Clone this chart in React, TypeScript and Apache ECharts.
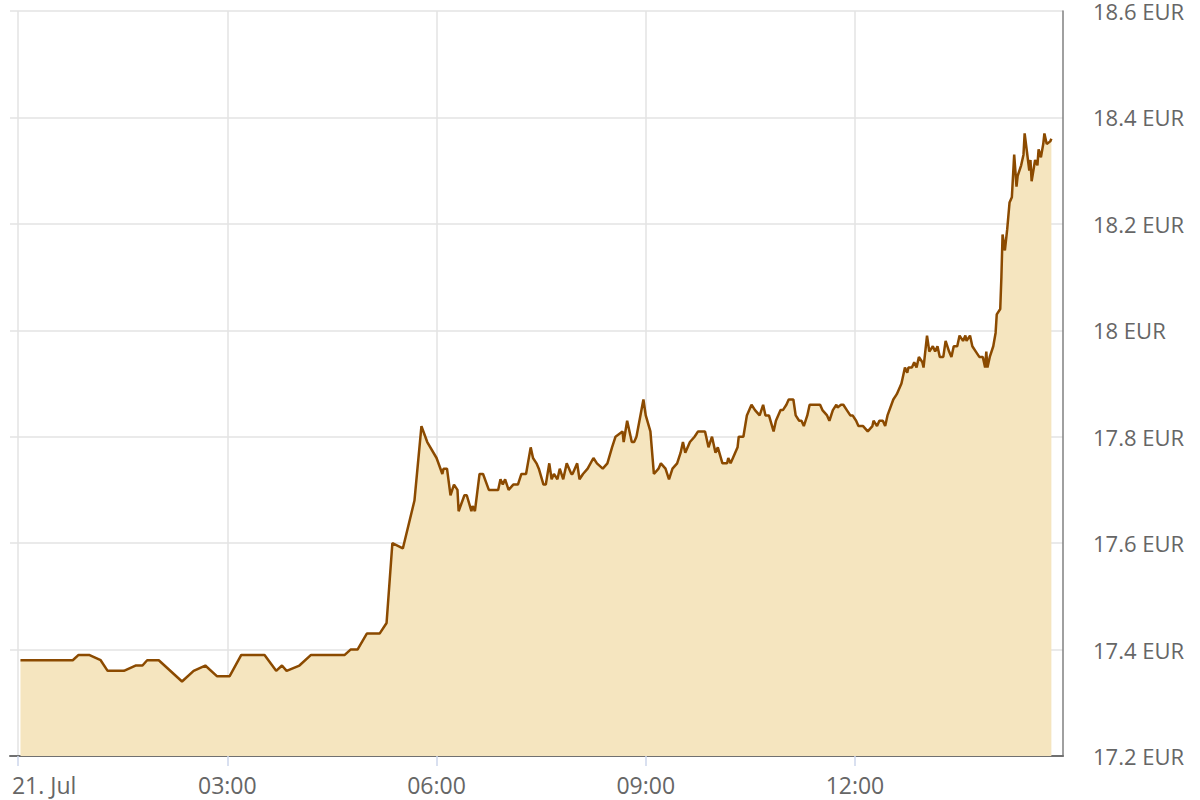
import React, { useEffect, useRef } from "react";
import * as echarts from "echarts";

const times = [
  "00:02","00:47","00:52","01:01","01:11","01:17","01:31","01:41","01:47","01:51",
  "02:01","02:21","02:31","02:41","02:51","03:02","03:12","03:32","03:42","03:47",
  "03:51","04:02","04:12","04:41","04:46","04:52","05:00","05:11","05:17","05:22",
  "05:31","05:41","05:47","05:52","06:00","06:05","06:06","06:09","06:12","06:15",
  "06:18","06:19","06:24","06:26","06:30","06:31","06:33","06:37","06:40","06:45",
  "06:53","06:55","06:57","06:59","07:02","07:06","07:10","07:13","07:17","07:21",
  "07:23","07:26","07:28","07:32","07:34","07:37","07:39","07:41","07:44","07:46",
  "07:49","07:52","07:56","07:57","08:01","08:03","08:06","08:10","08:15","08:18",
  "08:23","08:27","08:31","08:34","08:40","08:41","08:44","08:48","08:50","08:52",
  "08:58","09:00","09:04","09:07","09:11","09:13","09:17","09:20","09:23","09:27",
  "09:30","09:32","09:34","09:38","09:42","09:45","09:48","09:51","09:54","09:57",
  "10:00","10:02","10:06","10:10","10:11","10:13","10:15","10:19","10:20","10:24",
  "10:27","10:31","10:34","10:38","10:41","10:43","10:46","10:50","10:52","10:56",
  "10:58","11:01","11:03","11:07","11:09","11:12","11:14","11:16","11:19","11:21",
  "11:24","11:30","11:32","11:36","11:38","11:41","11:44","11:45","11:48","11:50",
  "11:53","11:56","11:58","12:01","12:03","12:07","12:11","12:15","12:16","12:19",
  "12:21","12:24","12:26","12:28","12:33","12:36","12:40","12:41","12:43","12:45",
  "12:46","12:49","12:51","12:53","12:55","12:58","12:59","13:02","13:04","13:07",
  "13:09","13:11","13:13","13:16","13:18","13:21","13:23","13:25","13:28","13:30",
  "13:33","13:35","13:36","13:39","13:41","13:44","13:47","13:50","13:52","13:53",
  "13:54","13:56","13:59","14:01","14:02","14:05","14:06","14:07","14:09","14:11",
  "14:13","14:15","14:17","14:19","14:20","14:23","14:25","14:26","14:28","14:30",
  "14:31","14:32","14:35","14:37","14:38","14:40","14:42","14:43","14:45","14:48",
  "14:49"
];

const prices = [
  17.38,17.38,17.39,17.39,17.38,17.36,17.36,17.37,17.37,17.38,
  17.38,17.34,17.36,17.37,17.35,17.35,17.39,17.39,17.36,17.37,
  17.36,17.37,17.39,17.39,17.40,17.40,17.43,17.43,17.45,17.60,
  17.59,17.68,17.82,17.79,17.76,17.73,17.74,17.74,17.69,17.71,
  17.70,17.66,17.69,17.69,17.66,17.67,17.66,17.73,17.73,17.70,
  17.70,17.72,17.71,17.72,17.70,17.71,17.71,17.73,17.73,17.78,
  17.76,17.75,17.74,17.71,17.71,17.75,17.72,17.73,17.72,17.74,
  17.72,17.75,17.73,17.73,17.75,17.72,17.73,17.74,17.76,17.75,
  17.74,17.75,17.78,17.80,17.81,17.79,17.83,17.79,17.79,17.80,
  17.87,17.84,17.81,17.73,17.74,17.75,17.74,17.72,17.74,17.75,
  17.77,17.79,17.77,17.79,17.80,17.81,17.81,17.81,17.78,17.80,
  17.77,17.78,17.75,17.75,17.76,17.75,17.76,17.78,17.80,17.80,
  17.84,17.86,17.85,17.84,17.86,17.84,17.84,17.81,17.83,17.85,
  17.85,17.86,17.87,17.87,17.84,17.83,17.83,17.82,17.84,17.86,
  17.86,17.86,17.85,17.84,17.83,17.85,17.86,17.855,17.86,17.86,
  17.85,17.84,17.84,17.83,17.82,17.82,17.81,17.82,17.83,17.82,
  17.83,17.83,17.82,17.84,17.87,17.88,17.90,17.91,17.93,17.92,
  17.93,17.93,17.94,17.93,17.95,17.94,17.93,17.99,17.96,17.97,
  17.96,17.97,17.95,17.95,17.98,17.96,17.95,17.97,17.97,17.99,
  17.98,17.99,17.98,17.99,17.97,17.96,17.95,17.95,17.93,17.96,
  17.93,17.95,17.97,17.995,18.03,18.04,18.10,18.18,18.15,18.19,
  18.24,18.25,18.33,18.27,18.29,18.31,18.33,18.37,18.335,18.30,
  18.32,18.28,18.32,18.31,18.34,18.325,18.35,18.37,18.35,18.355,
  18.36
];

const xTickLabels = ["21. Jul", "03:00", "06:00", "09:00", "12:00"];
const xTickValues = [0, 180, 360, 540, 720];
const yTicks = [17.2, 17.4, 17.6, 17.8, 18, 18.2, 18.4, 18.6];

const toMin = (s: string) => {
  const [h, m] = s.split(":").map(Number);
  return h * 60 + m;
};

export default function App() {
  const ref = useRef<HTMLDivElement>(null);
  useEffect(() => {
    if (!ref.current) return;
    const chart = echarts.init(ref.current, null, { renderer: "svg" });
    const data = times.map((t, i) => [toMin(t), prices[i]]);
    const font = "Open Sans";
    chart.setOption({
      animation: false,
      backgroundColor: "#ffffff",
      grid: {
        left: 10,
        right: 137,
        top: 11,
        bottom: 44,
        containLabel: false,
        outerBoundsMode: "none",
      },
      xAxis: {
        type: "value",
        min: -7,
        max: 899,
        axisLine: { show: true, onZero: false, lineStyle: { color: "#707070", width: 2 } },
        axisTick: {
          show: true,
          length: 10,
          customValues: xTickValues,
          lineStyle: { color: "#ccd6eb", width: 1.5 },
        },
        splitLine: { show: true, lineStyle: { color: "#e3e3e3", width: 1.5 } },
        axisLabel: {
          customValues: xTickValues,
          color: "#666666",
          fontFamily: font,
          fontSize: 23,
          lineHeight: 24,
          margin: 17,
          formatter: (v: number) => {
            const idx = xTickValues.indexOf(v);
            const label = idx >= 0 ? xTickLabels[idx] : "";
            return idx === 0 ? `{first|${label}}` : label;
          },
          rich: {
            first: {
              color: "#666666",
              fontFamily: font,
              fontSize: 23,
              lineHeight: 24,
              padding: [0, 0, 0, 52],
            },
          },
        },
      },
      yAxis: {
        type: "value",
        position: "right",
        min: 17.2,
        max: 18.6,
        interval: 0.2,
        axisLine: { show: true, onZero: false, lineStyle: { color: "#808080", width: 1.5 } },
        axisTick: { show: false },
        splitLine: { show: true, lineStyle: { color: "#e3e3e3", width: 1.5 } },
        axisLabel: {
          color: "#666666",
          fontFamily: font,
          fontSize: 22,
          lineHeight: 18,
          margin: 30,
          formatter: (v: number) => {
            const t = yTicks.find((y) => Math.abs(y - v) < 1e-6);
            return `${t !== undefined ? t : +v.toFixed(1)} EUR`;
          },
        },
      },
      series: [
        {
          type: "line",
          data,
          showSymbol: false,
          symbol: "none",
          lineStyle: { color: "#8b4a00", width: 2.5 },
          areaStyle: { color: "#f5e5bf", opacity: 1 },
          z: 3,
        },
      ],
    });
    return () => chart.dispose();
  }, []);
  return (
    <div
      ref={ref}
      style={{ position: "fixed", left: 0, top: 0, width: 1200, height: 800 }}
    />
  );
}
